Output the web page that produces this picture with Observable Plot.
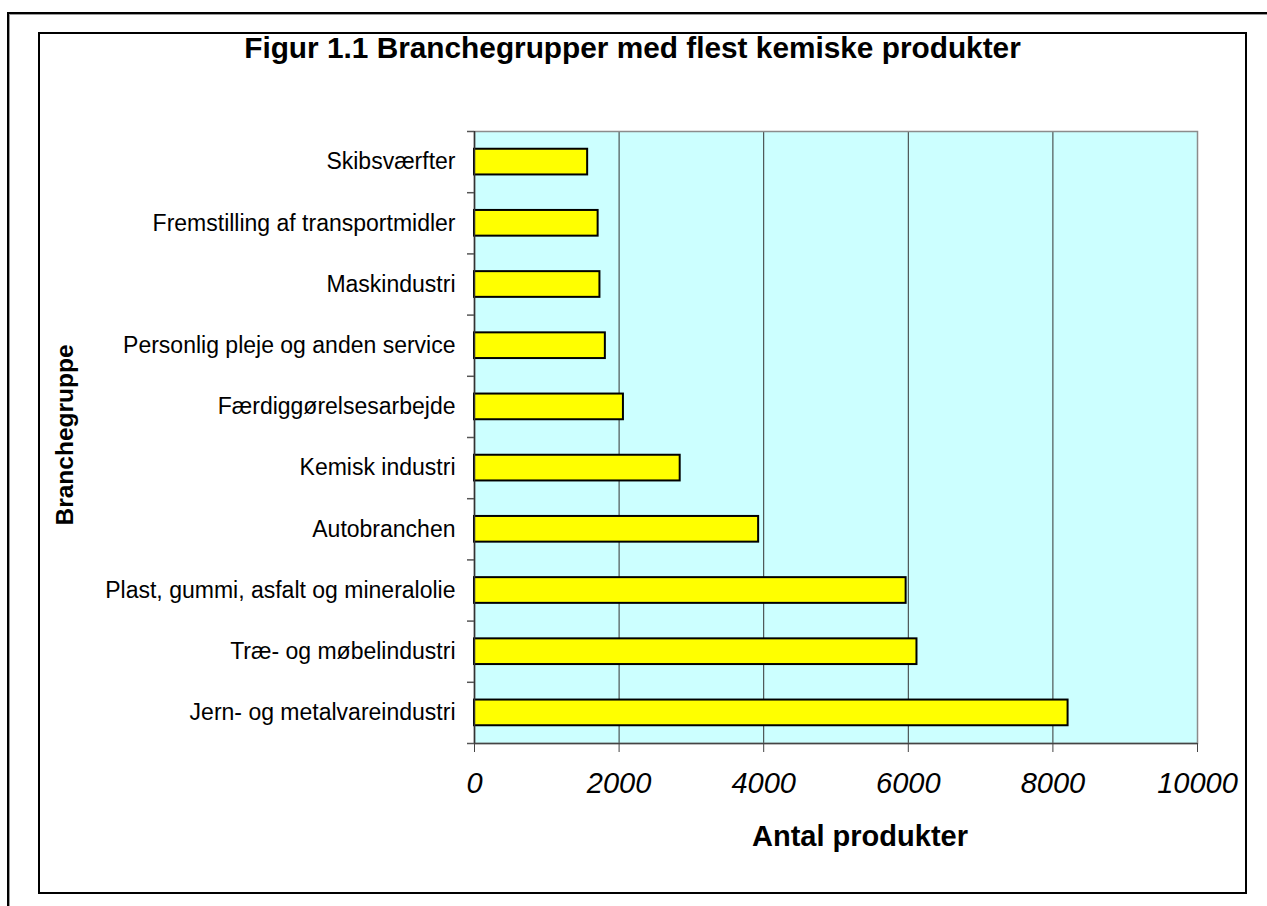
<!DOCTYPE html>
<html>
<head>
<meta charset="utf-8">
<script src="https://cdn.jsdelivr.net/npm/d3@7"></script>
<script src="https://cdn.jsdelivr.net/npm/@observablehq/plot@0.6"></script>
<style>
  body { margin: 0; background: #fff; font-family: "Liberation Sans", Arial, sans-serif; }
  #wrap { position: relative; width: 1267px; height: 906px; overflow: hidden; background: #fff; }
  .abs { position: absolute; }
  #outer { left: 7px; top: 12px; width: 1400px; height: 1000px; border-top: 2px solid #000; border-left: 2px solid #000; box-shadow: 1px 1px 0 #999 inset; }
  #inner { left: 38px; top: 32px; width: 1205px; height: 858px; border: 2px solid #000; }
  #title { left: 0; top: 31px; width: 1265px; text-align: center; font-weight: bold; font-size: 29.8px; line-height: 34px; color: #000; }
  #xlabel { left: 660px; top: 819px; width: 400px; text-align: center; font-weight: bold; font-size: 29px; line-height: 34px; color: #000; }
  #ylabel { left: 65px; top: 435px; font-weight: bold; font-size: 24.5px; line-height: 28px; color: #000; white-space: nowrap; transform: translate(-50%, -50%) rotate(-90deg); transform-origin: center; }
  #chart { left: 0; top: 0; }
</style>
</head>
<body>
<div id="wrap">
  <div id="outer" class="abs"></div>
  <div id="inner" class="abs"></div>
  <div id="title" class="abs">Figur 1.1 Branchegrupper med flest kemiske produkter</div>
  <div id="chart" class="abs"></div>
  <div id="xlabel" class="abs">Antal produkter</div>
  <div id="ylabel" class="abs">Branchegruppe</div>
</div>
<script>
// Categories from bottom (largest) to top
const categories = [
  "Jern- og metalvareindustri",
  "Træ- og møbelindustri",
  "Plast, gummi, asfalt og mineralolie",
  "Autobranchen",
  "Kemisk industri",
  "Færdiggørelsesarbejde",
  "Personlig pleje og anden service",
  "Maskindustri",
  "Fremstilling af transportmidler",
  "Skibsværfter"
];
const values = [8210, 6120, 5970, 3930, 2845, 2060, 1810, 1735, 1710, 1565];
const xTicks = [0, 2000, 4000, 6000, 8000, 10000];
const gridLines = [2000, 4000, 6000, 8000];

const rows = categories.map((c, i) => ({category: c, value: values[i], index: i}));
const boundaries = d3.range(categories.length + 1);
const centers = categories.map((c, i) => i + 0.5);

const chart = Plot.plot({
  width: 1267,
  height: 906,
  marginLeft: 474,
  marginRight: 70,
  marginTop: 131,
  marginBottom: 163,
  style: {background: "transparent", fontFamily: "'Liberation Sans', Arial, sans-serif", color: "#000", overflow: "visible"},
  x: {domain: [0, 10000], label: null},
  y: {domain: [0, categories.length], label: null},
  marks: [
    Plot.frame({fill: "#ccffff", stroke: null}),
    Plot.ruleX(gridLines, {stroke: "#333", strokeWidth: 1}),
    Plot.frame({stroke: "#8c8c8c", strokeWidth: 1.5, fill: null}),
    Plot.rectX(rows, {
      x1: 0,
      x2: "value",
      y1: d => d.index + 0.29,
      y2: d => d.index + 0.71,
      fill: "#ffff00",
      stroke: "#000",
      strokeWidth: 2
    }),
    Plot.ruleX([0], {stroke: "#333", strokeWidth: 1.5}),
    Plot.ruleY([0], {stroke: "#444", strokeWidth: 1.5}),
    Plot.axisY(boundaries, {tickSize: 7, tickFormat: () => "", stroke: "#555", strokeWidth: 1.5, label: null}),
    Plot.axisY(centers, {tickSize: 0, tickPadding: 19, tickFormat: v => categories[Math.floor(v)], fontSize: 23, fill: "#000", label: null}),
    Plot.axisX(xTicks, {tickSize: 9, tickPadding: 20, tickFormat: d => String(d), fontSize: 29, fontStyle: "italic", fill: "#000", stroke: "#444", label: null})
  ]
});
document.getElementById("chart").appendChild(chart);
</script>
</body>
</html>
